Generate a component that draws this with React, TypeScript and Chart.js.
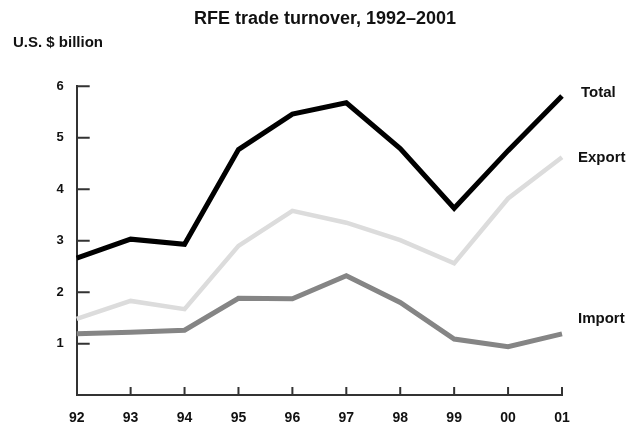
import React, { useEffect, useRef } from "react";
import { Chart, registerables } from "chart.js";

Chart.register(...registerables);

const years = ["92", "93", "94", "95", "96", "97", "98", "99", "00", "01"];
const totalValues = [2.66, 3.03, 2.93, 4.77, 5.46, 5.68, 4.79, 3.63, 4.75, 5.81];
const exportValues = [1.48, 1.83, 1.67, 2.9, 3.58, 3.35, 3.01, 2.56, 3.82, 4.62];
const importValues = [1.19, 1.22, 1.26, 1.88, 1.87, 2.32, 1.8, 1.09, 0.94, 1.19];
const yTickValues = [1, 2, 3, 4, 5, 6];
const seriesNames = ["Total", "Export", "Import"];

const FONT = '"Liberation Sans", Arial, Helvetica, sans-serif';
const AXIS = "#333333";

const decorPlugin = {
  id: "decor",
  beforeDatasetsDraw(chart: any) {
    const ctx = chart.ctx;
    const xs = chart.scales.x;
    const ys = chart.scales.y;
    const x0 = xs.getPixelForValue(0);
    const y0 = ys.getPixelForValue(0);
    ctx.save();
    ctx.strokeStyle = AXIS;
    ctx.lineWidth = 2;
    ctx.beginPath();
    yTickValues.forEach((v) => {
      const y = ys.getPixelForValue(v);
      ctx.moveTo(x0, y);
      ctx.lineTo(x0 + 13, y);
    });
    for (let i = 1; i < years.length; i++) {
      const x = xs.getPixelForValue(i);
      ctx.moveTo(x, y0);
      ctx.lineTo(x, y0 - 8);
    }
    ctx.stroke();
    ctx.restore();
  },
  afterDraw(chart: any) {
    const ctx = chart.ctx;
    ctx.save();
    ctx.fillStyle = "#111111";
    ctx.textBaseline = "alphabetic";
    ctx.textAlign = "center";
    ctx.font = `bold 18px ${FONT}`;
    ctx.fillText("RFE trade turnover, 1992\u20132001", 325, 24);
    ctx.textAlign = "left";
    ctx.font = `bold 15px ${FONT}`;
    ctx.fillText("U.S. $ billion", 13, 47);
    ctx.fillText(seriesNames[0], 581, 97);
    ctx.fillText(seriesNames[1], 578, 162);
    ctx.fillText(seriesNames[2], 578, 323);
    ctx.restore();
  },
};

export default function App() {
  const ref = useRef<HTMLCanvasElement | null>(null);
  useEffect(() => {
    if (!ref.current) return;
    const chart = new Chart(ref.current, {
      type: "line",
      data: {
        labels: years,
        datasets: [
          {
            label: seriesNames[0],
            data: totalValues,
            borderColor: "#000000",
            borderWidth: 5,
            pointRadius: 0,
            tension: 0,
            borderJoinStyle: "miter",
            order: 0,
          },
          {
            label: seriesNames[1],
            data: exportValues,
            borderColor: "#dcdcdc",
            borderWidth: 4.5,
            pointRadius: 0,
            tension: 0,
            borderJoinStyle: "miter",
            order: 1,
          },
          {
            label: seriesNames[2],
            data: importValues,
            borderColor: "#858585",
            borderWidth: 5,
            pointRadius: 0,
            tension: 0,
            borderJoinStyle: "miter",
            order: 2,
          },
        ],
      },
      options: {
        responsive: false,
        animation: false,
        layout: { padding: { top: 86.3, right: 74, left: 0, bottom: 0 } },
        plugins: {
          legend: { display: false },
          title: { display: false },
          tooltip: { enabled: false },
        },
        scales: {
          x: {
            offset: false,
            grid: { display: false, drawTicks: false },
            border: { display: true, color: AXIS, width: 2 },
            ticks: {
              color: "#111111",
              font: { family: FONT, size: 14, weight: "bold" },
              padding: 14.5,
              maxRotation: 0,
              autoSkip: false,
            },
            afterFit(scale: any) {
              scale.height = 31.9;
            },
          },
          y: {
            min: 0,
            max: 6,
            grid: { display: false, drawTicks: false },
            border: { display: true, color: AXIS, width: 2 },
            ticks: {
              stepSize: 1,
              color: "#111111",
              font: { family: FONT, size: 13, weight: "bold" },
              padding: 13,
              callback: (v: any) => (v === 0 ? "" : String(v)),
            },
            afterFit(scale: any) {
              scale.width = 76.7;
            },
          },
        },
      } as any,
      plugins: [decorPlugin],
    });
    return () => chart.destroy();
  }, []);
  return (
    <div style={{ position: "fixed", left: 0, top: 0, width: 636, height: 427, background: "#fff" }}>
      <canvas ref={ref} width={636} height={427} style={{ display: "block" }} />
    </div>
  );
}
